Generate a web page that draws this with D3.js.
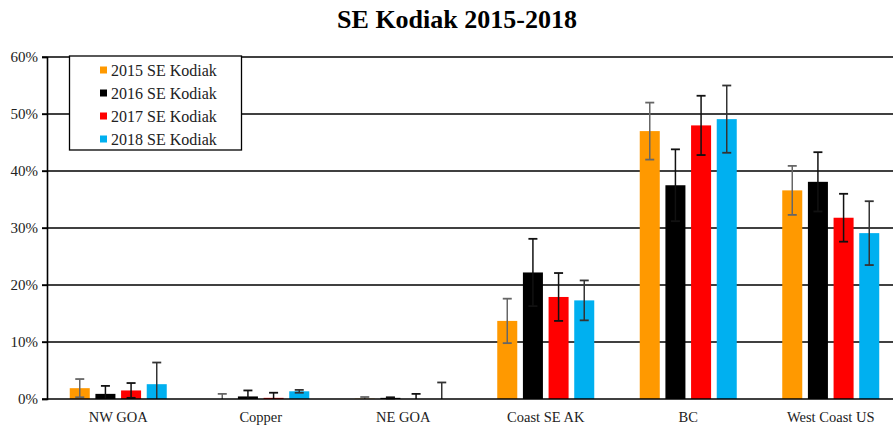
<!DOCTYPE html>
<html>
<head>
<meta charset="utf-8">
<script src="https://cdn.jsdelivr.net/npm/d3@7"></script>
<style>
  body { margin: 0; background: #fff; }
  svg text { font-family: "Liberation Serif", "Times New Roman", serif !important; }
</style>
</head>
<body>
<script>
var categories = ['NW GOA', 'Copper', 'NE GOA', 'Coast SE AK', 'BC', 'West Coast US'];
var seriesNames = ['2015 SE Kodiak', '2016 SE Kodiak', '2017 SE Kodiak', '2018 SE Kodiak'];
var seriesColors = ['#ff9900', '#000000', '#ff0000', '#00b0f0'];
var errColors = ['#666666', '#111111', '#111111', '#333333'];
var yTicks = [0, 0.1, 0.2, 0.3, 0.4, 0.5, 0.6];

// proportions per category, one array per year
var v2015 = [0.019, 0.000, 0.0005, 0.137, 0.470, 0.366];
var v2016 = [0.009, 0.0045, 0.002, 0.222, 0.375, 0.381];
var v2017 = [0.015, 0.002, 0.000, 0.179, 0.480, 0.318];
var v2018 = [0.026, 0.0135, 0.000, 0.173, 0.491, 0.291];
// error bar half-widths
var e2015 = [0.016, 0.009, 0.003, 0.039, 0.050, 0.043];
var e2016 = [0.014, 0.0105, 0.001, 0.059, 0.063, 0.052];
var e2017 = [0.013, 0.009, 0.009, 0.042, 0.052, 0.042];
var e2018 = [0.038, 0.0025, 0.029, 0.035, 0.059, 0.056];

var values = [v2015, v2016, v2017, v2018];
var errors = [e2015, e2016, e2017, e2018];

var width = 893, height = 430;

var svg = d3.select('body').append('svg')
  .attr('width', width)
  .attr('height', height);

var x = d3.scaleBand().domain(categories).range([47, 902]).padding(0);
var xs = d3.scaleBand().domain(d3.range(seriesNames.length)).range([-48.5, 48.5]).paddingInner(0.22);
var y = d3.scaleLinear().domain([0, 0.6]).range([399, 57]);

svg.append('text')
  .attr('x', 457)
  .attr('y', 28)
  .attr('text-anchor', 'middle')
  .style('font-size', '26px')
  .style('font-weight', 'bold')
  .text('SE Kodiak 2015-2018');

// gridlines
svg.append('g')
  .selectAll('line')
  .data(yTicks.slice(1))
  .enter().append('line')
  .attr('x1', 42).attr('x2', width)
  .attr('y1', function(d) { return y(d); })
  .attr('y2', function(d) { return y(d); })
  .attr('stroke', '#000')
  .attr('stroke-width', 1.3);

var yAxis = svg.append('g')
  .attr('transform', 'translate(47,0)')
  .call(d3.axisLeft(y).tickValues(yTicks).tickFormat(d3.format('.0%')).tickSize(5).tickPadding(4));
yAxis.select('.domain').attr('stroke', '#000').attr('stroke-width', 1.6);
yAxis.selectAll('.tick line').attr('stroke', '#000').attr('stroke-width', 1.3);
yAxis.selectAll('text')
  .attr('fill', '#222')
  .style('font-size', '15px');

// bars
var groups = svg.append('g').selectAll('g')
  .data(categories)
  .enter().append('g')
  .attr('transform', function(d) { return 'translate(' + (x(d) + x.bandwidth() / 2) + ',0)'; });

groups.each(function(cat, ci) {
  var g = d3.select(this);
  seriesNames.forEach(function(s, si) {
    var v = values[si][ci];
    g.append('rect')
      .attr('x', xs(si))
      .attr('width', xs.bandwidth())
      .attr('y', y(v))
      .attr('height', y(0) - y(v))
      .attr('fill', seriesColors[si]);
  });
});

// error bars
groups.each(function(cat, ci) {
  var g = d3.select(this);
  seriesNames.forEach(function(s, si) {
    var v = values[si][ci], e = errors[si][ci];
    var cx = xs(si) + xs.bandwidth() / 2;
    var hi = v + e, lo = Math.max(0, v - e);
    var col = errColors[si];
    g.append('line')
      .attr('x1', cx).attr('x2', cx)
      .attr('y1', y(hi)).attr('y2', y(lo))
      .attr('stroke', col).attr('stroke-width', 1.5);
    g.append('line')
      .attr('x1', cx - 4.5).attr('x2', cx + 4.5)
      .attr('y1', y(hi)).attr('y2', y(hi))
      .attr('stroke', col).attr('stroke-width', 1.8);
    if (lo > 0) {
      g.append('line')
        .attr('x1', cx - 4.5).attr('x2', cx + 4.5)
        .attr('y1', y(lo)).attr('y2', y(lo))
        .attr('stroke', col).attr('stroke-width', 1.8);
    }
  });
});

// baseline
svg.append('line')
  .attr('x1', 42).attr('x2', width)
  .attr('y1', y(0)).attr('y2', y(0))
  .attr('stroke', '#000').attr('stroke-width', 1.6);

// category labels
svg.append('g').selectAll('text')
  .data(categories)
  .enter().append('text')
  .attr('x', function(d) { return x(d) + x.bandwidth() / 2; })
  .attr('y', 422)
  .attr('text-anchor', 'middle')
  .attr('fill', '#222')
  .style('font-size', '14.5px')
  .text(function(d) { return d; });

// legend
var legend = svg.append('g').attr('class', 'legend');
legend.append('rect')
  .attr('x', 69.5).attr('y', 56)
  .attr('width', 172).attr('height', 94)
  .attr('fill', '#fff')
  .attr('stroke', '#000')
  .attr('stroke-width', 1.3);

var items = legend.selectAll('g.item')
  .data(seriesNames)
  .enter().append('g')
  .attr('class', 'item')
  .attr('transform', function(d, i) { return 'translate(100,' + (70 + i * 23) + ')'; });
items.append('rect')
  .attr('x', 0).attr('y', -3.5)
  .attr('width', 7).attr('height', 7)
  .attr('fill', function(d, i) { return seriesColors[i]; });
items.append('text')
  .attr('x', 11).attr('y', 5.5)
  .attr('fill', '#222')
  .style('font-size', '16px')
  .text(function(d) { return d; });
</script>
</body>
</html>
